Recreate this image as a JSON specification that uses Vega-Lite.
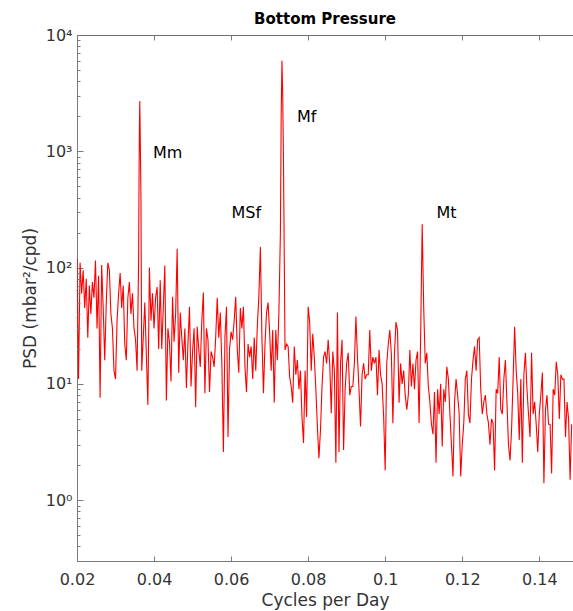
{
  "$schema": "https://vega.github.io/schema/vega-lite/v6.json",
  "width": 496,
  "height": 526,
  "autosize": {"type": "none"},
  "padding": {"left": 77, "top": 35, "right": 0, "bottom": 50},
  "background": "white",
  "config": {
    "view": {"stroke": null, "fill": null},
    "font": "DejaVu Sans",
    "axis": {"grid": false, "zindex": 1, "domainColor": "#7a7a7a", "tickColor": "#7a7a7a", "labelColor": "#333333", "titleColor": "#333333", "labelFontSize": 16, "titleFontSize": 17, "titleFontWeight": "normal"}
  },
  "title": {"text": "Bottom Pressure", "fontSize": 15, "fontWeight": "bold", "anchor": "middle", "offset": 0, "frame": "group", "color": "black"},
  "datasets": {
    "spectrum": [
      {"f":0.0200,"psd":120},{"f":0.0204,"psd":11},{"f":0.0208,"psd":110},{"f":0.0212,"psd":60},{"f":0.0216,"psd":95},
      {"f":0.0220,"psd":45},{"f":0.0224,"psd":80},{"f":0.0228,"psd":25},{"f":0.0232,"psd":70},{"f":0.0236,"psd":40},
      {"f":0.0240,"psd":75},{"f":0.0244,"psd":55},{"f":0.0248,"psd":115},{"f":0.0252,"psd":30},{"f":0.0256,"psd":85},
      {"f":0.0260,"psd":7.6},{"f":0.0264,"psd":105},{"f":0.0268,"psd":45},{"f":0.0272,"psd":16},{"f":0.0276,"psd":50},
      {"f":0.0280,"psd":110},{"f":0.0284,"psd":95},{"f":0.0288,"psd":40},{"f":0.0292,"psd":30},{"f":0.0296,"psd":13},
      {"f":0.0300,"psd":11},{"f":0.0304,"psd":35},{"f":0.0308,"psd":60},{"f":0.0312,"psd":90},{"f":0.0316,"psd":45},
      {"f":0.0320,"psd":70},{"f":0.0324,"psd":22},{"f":0.0328,"psd":16},{"f":0.0332,"psd":55},{"f":0.0336,"psd":75},
      {"f":0.0340,"psd":40},{"f":0.0344,"psd":60},{"f":0.0348,"psd":30},{"f":0.0352,"psd":24},{"f":0.0356,"psd":13},
      {"f":0.0360,"psd":120},{"f":0.0361,"psd":550},{"f":0.0362,"psd":1600},{"f":0.0363,"psd":2700},{"f":0.0364,"psd":1500},
      {"f":0.0366,"psd":400},{"f":0.0368,"psd":13},{"f":0.0372,"psd":25},{"f":0.0376,"psd":50},{"f":0.0380,"psd":18},
      {"f":0.0384,"psd":6.6},{"f":0.0388,"psd":100},{"f":0.0392,"psd":35},{"f":0.0396,"psd":60},{"f":0.0400,"psd":30},
      {"f":0.0404,"psd":55},{"f":0.0408,"psd":68},{"f":0.0412,"psd":20},{"f":0.0416,"psd":78},{"f":0.0420,"psd":20},
      {"f":0.0424,"psd":45},{"f":0.0428,"psd":104},{"f":0.0432,"psd":7.2},{"f":0.0436,"psd":30},{"f":0.0440,"psd":23},
      {"f":0.0444,"psd":10.5},{"f":0.0448,"psd":56},{"f":0.0452,"psd":23},{"f":0.0456,"psd":40},{"f":0.0460,"psd":145},
      {"f":0.0464,"psd":12.5},{"f":0.0468,"psd":41},{"f":0.0472,"psd":25},{"f":0.0476,"psd":16},{"f":0.0480,"psd":30},
      {"f":0.0484,"psd":9.2},{"f":0.0488,"psd":22},{"f":0.0492,"psd":46},{"f":0.0496,"psd":9.5},{"f":0.0500,"psd":19},
      {"f":0.0504,"psd":30},{"f":0.0508,"psd":6.3},{"f":0.0512,"psd":31},{"f":0.0516,"psd":20},{"f":0.0520,"psd":14},
      {"f":0.0524,"psd":35},{"f":0.0528,"psd":61},{"f":0.0532,"psd":8.3},{"f":0.0536,"psd":30},{"f":0.0540,"psd":24},
      {"f":0.0544,"psd":8.5},{"f":0.0548,"psd":19},{"f":0.0552,"psd":17},{"f":0.0556,"psd":14},{"f":0.0560,"psd":25},
      {"f":0.0564,"psd":55},{"f":0.0568,"psd":25},{"f":0.0572,"psd":41},{"f":0.0576,"psd":15},{"f":0.0580,"psd":2.6},
      {"f":0.0584,"psd":25},{"f":0.0588,"psd":46},{"f":0.0592,"psd":3.5},{"f":0.0596,"psd":20},{"f":0.0600,"psd":28},
      {"f":0.0604,"psd":24},{"f":0.0608,"psd":35},{"f":0.0612,"psd":56},{"f":0.0616,"psd":20},{"f":0.0620,"psd":12.5},
      {"f":0.0624,"psd":45},{"f":0.0628,"psd":30},{"f":0.0632,"psd":46},{"f":0.0636,"psd":14},{"f":0.0640,"psd":8.5},
      {"f":0.0644,"psd":22},{"f":0.0648,"psd":17},{"f":0.0652,"psd":21},{"f":0.0656,"psd":11},{"f":0.0660,"psd":25},
      {"f":0.0664,"psd":13},{"f":0.0668,"psd":31},{"f":0.0672,"psd":56},{"f":0.0676,"psd":150},{"f":0.0680,"psd":25},
      {"f":0.0684,"psd":8.3},{"f":0.0688,"psd":22},{"f":0.0692,"psd":41},{"f":0.0696,"psd":50},{"f":0.0700,"psd":28},
      {"f":0.0704,"psd":13},{"f":0.0708,"psd":29},{"f":0.0712,"psd":6.9},{"f":0.0716,"psd":29},{"f":0.0720,"psd":16},
      {"f":0.0724,"psd":40},{"f":0.0728,"psd":200},{"f":0.0730,"psd":2000},{"f":0.0732,"psd":6000},{"f":0.0734,"psd":3000},
      {"f":0.0736,"psd":800},{"f":0.0740,"psd":19.6},{"f":0.0744,"psd":22},{"f":0.0748,"psd":21},{"f":0.0752,"psd":11.5},
      {"f":0.0756,"psd":9.5},{"f":0.0760,"psd":6.9},{"f":0.0764,"psd":21},{"f":0.0768,"psd":12},{"f":0.0772,"psd":16},
      {"f":0.0776,"psd":9},{"f":0.0780,"psd":13},{"f":0.0784,"psd":5.2},{"f":0.0788,"psd":3.1},{"f":0.0792,"psd":13},
      {"f":0.0796,"psd":5.2},{"f":0.0800,"psd":46},{"f":0.0804,"psd":34},{"f":0.0808,"psd":13},{"f":0.0812,"psd":27},
      {"f":0.0816,"psd":17},{"f":0.0820,"psd":9},{"f":0.0824,"psd":4.3},{"f":0.0828,"psd":2.3},{"f":0.0832,"psd":4},
      {"f":0.0836,"psd":9.5},{"f":0.0840,"psd":17},{"f":0.0844,"psd":19},{"f":0.0848,"psd":15},{"f":0.0852,"psd":24},
      {"f":0.0856,"psd":15},{"f":0.0860,"psd":5.6},{"f":0.0864,"psd":19},{"f":0.0868,"psd":13},{"f":0.0872,"psd":2.1},
      {"f":0.0876,"psd":41},{"f":0.0880,"psd":2.6},{"f":0.0884,"psd":15},{"f":0.0888,"psd":24},{"f":0.0892,"psd":2.7},
      {"f":0.0896,"psd":9},{"f":0.0900,"psd":15},{"f":0.0904,"psd":18.5},{"f":0.0908,"psd":8},{"f":0.0912,"psd":9.5},
      {"f":0.0916,"psd":9.5},{"f":0.0920,"psd":15},{"f":0.0924,"psd":38},{"f":0.0928,"psd":17},{"f":0.0932,"psd":9},
      {"f":0.0936,"psd":4.3},{"f":0.0940,"psd":12},{"f":0.0944,"psd":15},{"f":0.0948,"psd":11},{"f":0.0952,"psd":12},
      {"f":0.0956,"psd":12},{"f":0.0960,"psd":29},{"f":0.0964,"psd":13},{"f":0.0968,"psd":17},{"f":0.0972,"psd":15},
      {"f":0.0976,"psd":17},{"f":0.0980,"psd":8},{"f":0.0984,"psd":19.6},{"f":0.0988,"psd":12},{"f":0.0992,"psd":10},
      {"f":0.0996,"psd":5.2},{"f":0.1000,"psd":1.8},{"f":0.1004,"psd":15},{"f":0.1008,"psd":22},{"f":0.1012,"psd":29},
      {"f":0.1016,"psd":18},{"f":0.1020,"psd":4.6},{"f":0.1024,"psd":18},{"f":0.1028,"psd":34},{"f":0.1032,"psd":29},
      {"f":0.1036,"psd":6.9},{"f":0.1040,"psd":15},{"f":0.1044,"psd":10},{"f":0.1048,"psd":13},{"f":0.1052,"psd":8},
      {"f":0.1056,"psd":6},{"f":0.1060,"psd":8},{"f":0.1064,"psd":19.6},{"f":0.1068,"psd":9.5},{"f":0.1072,"psd":15},
      {"f":0.1076,"psd":9},{"f":0.1080,"psd":16},{"f":0.1084,"psd":19},{"f":0.1088,"psd":4.6},{"f":0.1092,"psd":25},
      {"f":0.1096,"psd":236},{"f":0.1100,"psd":45},{"f":0.1104,"psd":15},{"f":0.1108,"psd":18.5},{"f":0.1112,"psd":9.5},
      {"f":0.1116,"psd":7},{"f":0.1120,"psd":4.5},{"f":0.1124,"psd":3.7},{"f":0.1128,"psd":8.5},{"f":0.1132,"psd":2.1},
      {"f":0.1136,"psd":9},{"f":0.1140,"psd":5.5},{"f":0.1144,"psd":10},{"f":0.1148,"psd":2.9},{"f":0.1152,"psd":9},
      {"f":0.1156,"psd":7},{"f":0.1160,"psd":14},{"f":0.1164,"psd":11},{"f":0.1168,"psd":5.5},{"f":0.1172,"psd":3},
      {"f":0.1176,"psd":1.6},{"f":0.1180,"psd":7},{"f":0.1184,"psd":11},{"f":0.1188,"psd":8},{"f":0.1192,"psd":5.6},
      {"f":0.1196,"psd":1.6},{"f":0.1200,"psd":3},{"f":0.1204,"psd":4.6},{"f":0.1208,"psd":11},{"f":0.1212,"psd":13},
      {"f":0.1216,"psd":5.5},{"f":0.1220,"psd":4.6},{"f":0.1224,"psd":11},{"f":0.1228,"psd":16},{"f":0.1232,"psd":21},
      {"f":0.1236,"psd":13},{"f":0.1240,"psd":24},{"f":0.1244,"psd":25},{"f":0.1248,"psd":9},{"f":0.1252,"psd":5.5},
      {"f":0.1256,"psd":7},{"f":0.1260,"psd":8},{"f":0.1264,"psd":5.5},{"f":0.1268,"psd":4.6},{"f":0.1272,"psd":3},
      {"f":0.1276,"psd":5},{"f":0.1280,"psd":4.6},{"f":0.1284,"psd":1.8},{"f":0.1288,"psd":9},{"f":0.1292,"psd":8.3},
      {"f":0.1296,"psd":17},{"f":0.1300,"psd":6},{"f":0.1304,"psd":5.5},{"f":0.1308,"psd":11},{"f":0.1312,"psd":16},
      {"f":0.1316,"psd":7},{"f":0.1320,"psd":3},{"f":0.1324,"psd":2.2},{"f":0.1328,"psd":4},{"f":0.1332,"psd":11},
      {"f":0.1336,"psd":31},{"f":0.1340,"psd":13},{"f":0.1344,"psd":8.3},{"f":0.1348,"psd":3.3},{"f":0.1352,"psd":11},
      {"f":0.1356,"psd":2.1},{"f":0.1360,"psd":12},{"f":0.1364,"psd":18.5},{"f":0.1368,"psd":9},{"f":0.1372,"psd":5.5},
      {"f":0.1376,"psd":3.5},{"f":0.1380,"psd":18.5},{"f":0.1384,"psd":5.5},{"f":0.1388,"psd":7},{"f":0.1392,"psd":4.5},
      {"f":0.1396,"psd":2.6},{"f":0.1400,"psd":5.5},{"f":0.1404,"psd":8},{"f":0.1408,"psd":12.5},{"f":0.1412,"psd":1.4},
      {"f":0.1416,"psd":6},{"f":0.1420,"psd":8},{"f":0.1424,"psd":4.5},{"f":0.1428,"psd":4.5},{"f":0.1432,"psd":1.7},
      {"f":0.1436,"psd":9},{"f":0.1440,"psd":8},{"f":0.1444,"psd":15.5},{"f":0.1448,"psd":12},{"f":0.1452,"psd":5},
      {"f":0.1456,"psd":12},{"f":0.1460,"psd":11},{"f":0.1464,"psd":11},{"f":0.1468,"psd":3.5},{"f":0.1472,"psd":7},
      {"f":0.1476,"psd":5},{"f":0.1480,"psd":1.5},{"f":0.1484,"psd":4.5}
    ],
    "labels": [
      {"f":0.0397,"psd":966,"label":"Mm"},
      {"f":0.0771,"psd":1972,"label":"Mf"},
      {"f":0.0601,"psd":294,"label":"MSf"},
      {"f":0.1133,"psd":294,"label":"Mt"}
    ]
  },
  "layer": [
    {
      "data": {"name": "spectrum"},
      "mark": {"type": "line", "color": "#ff0000", "strokeWidth": 1.1, "clip": true},
      "encoding": {
        "x": {"field": "f", "type": "quantitative",
              "scale": {"domain": [0.02, 0.14875], "nice": false, "zero": false},
              "axis": {"orient": "bottom", "values": [0.02,0.04,0.06,0.08,0.1,0.12,0.14], "format": ".2~f",
                       "tickSize": -5, "labelPadding": 15, "labelFlush": false, "title": "Cycles per Day", "titlePadding": 5}},
        "y": {"field": "psd", "type": "quantitative",
              "scale": {"type": "log", "domain": [0.3, 10000], "nice": false},
              "axis": {"orient": "left", "values": [1,10,100,1000,10000],
                       "labelExpr": "datum.value == 1 ? '10⁰' : datum.value == 10 ? '10¹' : datum.value == 100 ? '10²' : datum.value == 1000 ? '10³' : '10⁴'",
                       "tickSize": -6, "labelPadding": 11, "labelFlush": false, "title": "PSD (mbar²/cpd)", "titlePadding": 6}}
      }
    },
    {
      "data": {"name": "labels"},
      "mark": {"type": "text", "align": "left", "baseline": "middle", "fontSize": 16, "font": "DejaVu Sans", "color": "black"},
      "encoding": {
        "x": {"field": "f", "type": "quantitative",
              "scale": {"domain": [0.02, 0.14875], "nice": false, "zero": false},
              "axis": {"orient": "top", "values": [0.02,0.04,0.06,0.08,0.1,0.12,0.14], "labels": false, "tickSize": -5, "tickColor": "#7a7a7a", "tickWidth": 1, "domain": true, "domainColor": "#6e6e6e", "domainWidth": 1.2, "zindex": 1, "title": null}},
        "y": {"field": "psd", "type": "quantitative",
              "scale": {"type": "log", "domain": [0.3, 10000], "nice": false},
              "axis": {"orient": "left", "values": [0.3,0.4,0.5,0.6,0.7,0.8,0.9,2,3,4,5,6,7,8,9,20,30,40,50,60,70,80,90,200,300,400,500,600,700,800,900,2000,3000,4000,5000,6000,7000,8000,9000],
                       "labels": false, "domain": false, "tickSize": -3, "tickColor": "#7a7a7a", "tickWidth": 1, "zindex": 1, "title": null}},
        "text": {"field": "label", "type": "nominal"}
      }
    }
  ],
  "resolve": {"axis": {"x": "independent", "y": "independent"}}
}
